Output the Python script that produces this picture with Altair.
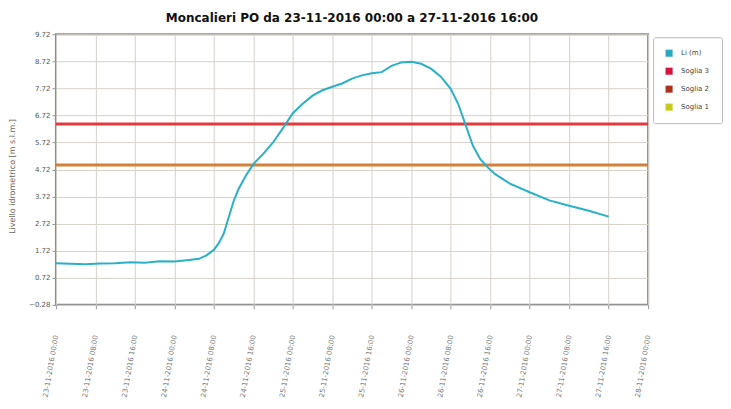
import altair as alt
import pandas as pd

# Hours since 23-11-2016 00:00 and level (m)
hours = [0, 3, 6, 9, 12, 15, 18, 21, 24, 27, 29, 30.5, 32, 33, 34, 35, 36, 37, 38.5, 40,
         42, 44, 46, 48, 50, 52, 54, 56, 58, 60, 62, 64, 66, 68, 70, 72, 74, 76, 78, 80,
         81.5, 83, 84.5, 86, 87.5, 89, 92, 96, 100, 104, 108, 112]
levels = [1.26, 1.24, 1.22, 1.25, 1.26, 1.29, 1.28, 1.33, 1.32, 1.38, 1.42, 1.55, 1.75, 2.0,
          2.35, 2.95, 3.55, 4.0, 4.5, 4.92, 5.3, 5.72, 6.25, 6.8, 7.15, 7.45, 7.65, 7.78, 7.9,
          8.08, 8.2, 8.28, 8.32, 8.55, 8.68, 8.7, 8.63, 8.45, 8.15, 7.7, 7.15, 6.38, 5.6, 5.1,
          4.8, 4.55, 4.2, 3.88, 3.58, 3.38, 3.2, 2.98]

series_names = ["Li (m)", "Soglia 3", "Soglia 2", "Soglia 1"]
series_colors = ["#2aa8c4", "#d81140", "#b03020", "#c8c81a"]
line_color = "#2ab0c6"

threshold_names = ["Soglia 3", "Soglia 2"]
threshold_values = [6.40, 4.89]
threshold_colors = ["#e33a3f", "#d4803a"]

y_ticks = [-0.28, 0.72, 1.72, 2.72, 3.72, 4.72, 5.72, 6.72, 7.72, 8.72, 9.72]
x_ticks = [0, 8, 16, 24, 32, 40, 48, 56, 64, 72, 80, 88, 96, 104, 112, 120]
x_labels = ["23-11-2016 00:00", "23-11-2016 08:00", "23-11-2016 16:00",
            "24-11-2016 00:00", "24-11-2016 08:00", "24-11-2016 16:00",
            "25-11-2016 00:00", "25-11-2016 08:00", "25-11-2016 16:00",
            "26-11-2016 00:00", "26-11-2016 08:00", "26-11-2016 16:00",
            "27-11-2016 00:00", "27-11-2016 08:00", "27-11-2016 16:00",
            "28-11-2016 00:00"]

df = pd.DataFrame({"h": hours, "v": levels, "serie": "Li (m)"})
thr = pd.DataFrame({"serie": threshold_names, "v": threshold_values, "c": threshold_colors})
leg = pd.DataFrame({"serie": series_names})

label_expr = "[" + ",".join("'" + l + "'" for l in x_labels) + "][round(datum.value/8)]"

xscale = alt.Scale(domain=[0, 120], nice=False, zero=False)
yscale = alt.Scale(domain=[-0.28, 9.72], nice=False, zero=False)

x_axis = alt.Axis(values=x_ticks, labelExpr=label_expr, labelAngle=280, labelPadding=26,
                  labelFontSize=7, labelColor="#777", title=None, grid=True,
                  gridColor="#d6d2ca", tickColor="#999", tickSize=4, domain=False,
                  labelFont="DejaVu Sans", labelOverlap=False)
y_axis = alt.Axis(values=y_ticks, format=".2f", labelFontSize=7, labelColor="#555",
                  labelOverlap=False,
                  title="Livello idrometrico [m s.l.m.]", titleFontSize=8, titleFontWeight="normal",
                  titleColor="#666", titleX=-43, titleY=142, titleAngle=270,
                  titleAlign="center", titleBaseline="middle",
                  grid=True, gridColor="#d6d2ca", tickColor="#999", tickSize=4, domain=False,
                  labelFont="DejaVu Sans", titleFont="DejaVu Sans")

line = alt.Chart(df).mark_line(strokeWidth=2, color=line_color).encode(
    x=alt.X("h:Q", scale=xscale, axis=x_axis),
    y=alt.Y("v:Q", scale=yscale, axis=y_axis),
)

rules = alt.Chart(thr).mark_rule(strokeWidth=3).encode(
    y=alt.Y("v:Q", scale=yscale, axis=y_axis),
    color=alt.Color("c:N", scale=None),
)

legend_marks = alt.Chart(leg).mark_square(opacity=0, size=1).encode(
    fill=alt.Fill("serie:N",
                  scale=alt.Scale(domain=series_names, range=series_colors),
                  legend=alt.Legend(title=None, orient="none", legendX=598, legendY=3,
                                    symbolType="square", symbolSize=50, symbolOpacity=1,
                                    symbolStrokeWidth=0,
                                    labelFontSize=7, labelColor="#444", labelFont="DejaVu Sans",
                                    rowPadding=10, padding=12, fillColor="white",
                                    labelOffset=8,
                                    strokeColor="#bbb", cornerRadius=2)),
)

chart = alt.layer(rules, line, legend_marks).properties(
    width=593, height=271,
    title=alt.TitleParams("Moncalieri PO da 23-11-2016 00:00 a 27-11-2016 16:00",
                          fontSize=12, font="DejaVu Sans", fontWeight="bold",
                          anchor="middle", offset=5, color="#111"),
    autosize=alt.AutoSizeParams(type="none"),
    padding={"left": 48, "top": 26, "right": 75, "bottom": 95},
).configure_view(fill="#fffbf0", stroke="#888", strokeWidth=2
).configure_axis(labelOverlap=False)

chart.save("out.html", embed_options={"renderer": "svg", "actions": False})
